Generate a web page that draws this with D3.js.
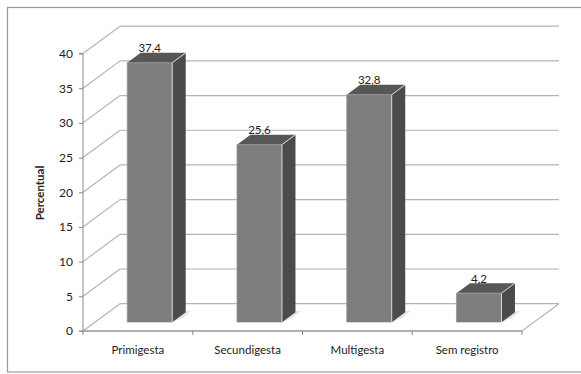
<!DOCTYPE html>
<html><head><meta charset="utf-8">
<script src="https://cdn.jsdelivr.net/npm/d3@7"></script>
<style>body{margin:0;background:#fff}svg{display:block}text{font-family:Lato,"Open Sans",sans-serif;fill:#222}</style>
</head><body>
<svg id="c" width="581" height="374"></svg>
<script>
const categories = ["Primigesta", "Secundigesta", "Multigesta", "Sem registro"];
const values = [37.4, 25.6, 32.8, 4.2];
const labels = ["37,4", "25,6", "32,8", "4,2"];
const yTicks = [0, 5, 10, 15, 20, 25, 30, 35, 40];
const yTitle = "Percentual";

const svg = d3.select("#c");
const DX = 37, DY = 27.3;          // depth offset of back wall
const F0 = 0.32, F1 = 0.685;        // bar depth fraction
const x = d3.scaleBand().domain(categories).range([83, 522]).paddingInner(0).paddingOuter(0);
const y = d3.scaleLinear().domain([0, 40]).range([331, 53.5]);
const P = (px, v, f) => [px + DX * f, y(v) - DY * f];

// frame
svg.append("rect").attr("x", 7.5).attr("y", 7.5).attr("width", 590).attr("height", 364.5)
  .attr("fill", "none").attr("stroke", "#9a9a9a").attr("stroke-width", 1.2);

const g = svg.append("g");
// back wall gridlines
yTicks.forEach(t => {
  const a = P(83, t, 1), b = P(522, t, 1);
  g.append("line").attr("x1", a[0]).attr("y1", a[1]).attr("x2", b[0]).attr("y2", b[1])
    .attr("stroke", "#b4b4b4").attr("stroke-width", 1.2);
  const c = P(83, t, 0);
  g.append("line").attr("x1", c[0]).attr("y1", c[1]).attr("x2", a[0]).attr("y2", a[1])
    .attr("stroke", "#b4b4b4").attr("stroke-width", 1.2);
});
// floor
const fl = [P(83,0,0), P(522,0,0), P(522,0,1)];
g.append("polyline").attr("points", fl.map(p => p.join(",")).join(" "))
  .attr("fill", "none").attr("stroke", "#b4b4b4").attr("stroke-width", 1.2);

// y axis
const yAxis = d3.axisLeft(y).tickValues(yTicks).tickSize(4).tickPadding(6);
const ya = svg.append("g").attr("transform", "translate(83,0)").call(yAxis);
ya.select(".domain").attr("stroke", "#8a8a8a").attr("d", `M-4,${y(0)}H0V${y(40)}H-4`);
ya.selectAll(".tick line").attr("stroke", "#8a8a8a");
ya.selectAll(".tick text").attr("font-size", "12px").attr("fill", "#222")
  .style("font-family", "Lato, sans-serif");

// x axis
const xAxis = d3.axisBottom(x).tickSize(0).tickPadding(15);
const xa = svg.append("g").attr("transform", `translate(0,${y(0)})`).call(xAxis);
xa.select(".domain").attr("stroke", "#8a8a8a").attr("d", `M83,0H522`);
xa.selectAll(".tick text").attr("font-size", "11.5px").attr("fill", "#222")
  .style("font-family", "Lato, sans-serif");
[0,1,2,3,4].forEach(i => {
  const tx = 83 + x.bandwidth() * i;
  xa.append("line").attr("x1", tx).attr("x2", tx).attr("y1", 0).attr("y2", 4).attr("stroke", "#8a8a8a");
});

// bars
const bw = x.bandwidth() * 0.41;
const bars = svg.append("g");
categories.forEach((cat, i) => {
  const v = values[i];
  const xl = x(cat) + (x.bandwidth() - bw) / 2, xr = xl + bw;
  const fl0 = P(xl, 0, F0), fr0 = P(xr, 0, F0), flT = P(xl, v, F0), frT = P(xr, v, F0);
  const blT = P(xl, v, F1), brT = P(xr, v, F1), br0 = P(xr, 0, F1);
  const poly = (pts, fill) => bars.append("polygon").attr("points", pts.map(p => p.join(",")).join(" ")).attr("fill", fill);
  // shadow on floor
  poly([fl0, fr0, [br0[0] + 10, br0[1] + 2], [fl0[0] + 50, fl0[1] - 6], [fl0[0] - 8, fl0[1] + 1]].slice(0,2)
       .concat([[fr0[0] + 10, fr0[1] - 4], [br0[0] + 6, br0[1] - 2], [fl0[0]-6, fl0[1]+1]]), "#e4e4e4");
  poly([fl0, fr0, frT, flT], "#7d7d7d");
  poly([fr0, br0, brT, frT], "#4b4b4b");
  poly([flT, frT, brT, blT], "#575757");
  // highlight edges
  bars.append("polyline").attr("points", [fr0, frT, brT].map(p => p.join(",")).join(" "))
    .attr("fill", "none").attr("stroke", "#d8d8d8").attr("stroke-width", 1);
  bars.append("polyline").attr("points", [fl0, flT, frT].map(p => p.join(",")).join(" "))
    .attr("fill", "none").attr("stroke", "#9a9a9a").attr("stroke-width", 0.8);
  bars.append("text").attr("x", (xl + xr) / 2 + DX * F0).attr("y", flT[1] - 10.5)
    .attr("text-anchor", "middle").attr("font-size", "11.5px").text(labels[i]);
});

// y title
svg.append("text").attr("transform", "translate(44,193) rotate(-90)")
  .attr("text-anchor", "middle").attr("font-size", "11.5px").attr("font-weight", "bold").text(yTitle);
</script>
</body></html>
